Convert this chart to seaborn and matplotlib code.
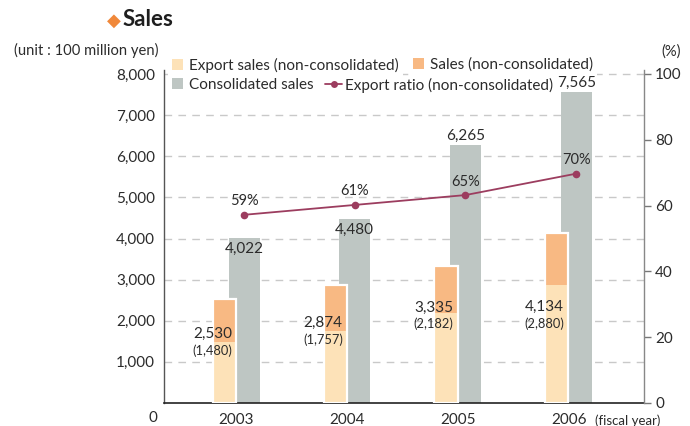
import matplotlib
matplotlib.use("Agg")
import matplotlib.pyplot as plt
import seaborn as sns
import pandas as pd
from matplotlib.patches import Patch
from matplotlib.lines import Line2D
from matplotlib.legend import Legend

# ---- data ----
years = ["2003", "2004", "2005", "2006"]
consolidated = [4022, 4480, 6265, 7565]
sales_nc = [2530, 2874, 3335, 4134]
export_nc = [1480, 1757, 2182, 2880]
export_ratio = [57.2, 60.2, 63.2, 69.7]          # plotted positions
ratio_labels = ["59%", "61%", "65%", "70%"]
left_ticks = [1000, 2000, 3000, 4000, 5000, 6000, 7000, 8000]
right_ticks = [0, 20, 40, 60, 80, 100]

# ---- layout (not data) ----
sales_label_y = [1680, 1950, 2320, 2340]
cons_label_off_px = [-11, -11, 9, 9]

C_CREAM = "#fde2b8"
C_ORANGE = "#f8b983"
C_GRAY = "#bec6c3"
C_LINE = "#9c3d5f"
C_TEXT = "#2b2b2b"

sns.set_style("white")
plt.rcParams["font.family"] = ["Lato", "DejaVu Sans"]
plt.rcParams["text.color"] = C_TEXT
plt.rcParams["axes.labelcolor"] = C_TEXT
plt.rcParams["xtick.color"] = C_TEXT
plt.rcParams["ytick.color"] = C_TEXT

W, H = 690, 426
PX = 72 / 100  # points per pixel
FS = 11

fig = plt.figure(figsize=(6.9, 4.26), dpi=100)
L, R, B, T = 164, 644, 403, 70
ax = fig.add_axes([L / W, 1 - B / H, (R - L) / W, (B - T) / H])

idx = list(range(len(years)))
df = pd.DataFrame({
    "year": years,
    "xg": [i + 0.068 for i in idx],
    "xo": [i - 0.108 for i in idx],
    "consolidated": consolidated,
    "sales": sales_nc,
    "export": export_nc,
    "ratio": export_ratio,
})

ymax = 8000 * (B - T) / (B - 74)

sns.barplot(data=df, x="xg", y="consolidated", native_scale=True, orient="x",
            width=0.28, color=C_GRAY, saturation=1, errorbar=None, ax=ax,
            linewidth=0, zorder=2)
sns.barplot(data=df, x="xo", y="sales", native_scale=True, orient="x",
            width=0.21, color=C_ORANGE, saturation=1, errorbar=None, ax=ax,
            linewidth=0, zorder=3)
sns.barplot(data=df, x="xo", y="export", native_scale=True, orient="x",
            width=0.21, color=C_CREAM, saturation=1, errorbar=None, ax=ax,
            linewidth=0, zorder=4)
sns.barplot(data=df, x="xo", y="sales", native_scale=True, orient="x",
            width=0.21, fill=False, color="white", errorbar=None, ax=ax,
            linewidth=1.6, zorder=5)

ax.set_xlim(-0.655, 3.681)
ax.set_ylim(0, ymax)
ax.set_xticks(idx, years)
ax.set_yticks(left_ticks, [f"{v:,}" for v in left_ticks])
ax.set_xlabel("")
ax.set_ylabel("")
ax.tick_params(axis="y", length=0, pad=6.5, labelsize=FS)
ax.tick_params(axis="x", length=0, pad=7, labelsize=FS)
ax.yaxis.grid(True, color="#c9c9c9", linewidth=1.0, linestyle=(0, (5.5, 4.5)), zorder=0)
ax.xaxis.grid(False)
ax.set_axisbelow(True)
for s in ["top", "right"]:
    ax.spines[s].set_visible(False)
ax.spines["left"].set_color("#555555")
ax.spines["left"].set_linewidth(1.0)
ax.spines["bottom"].set_color("#222222")
ax.spines["bottom"].set_linewidth(1.2)

# ratio line on right axis
ax2 = ax.twinx()
sns.lineplot(data=df, x="xg", y="ratio", color=C_LINE, marker="o",
             markersize=5.5, markeredgewidth=0, linewidth=1.3, ax=ax2)
if ax2.get_legend() is not None:
    ax2.get_legend().remove()
ax2.set_ylim(0, 100 * (B - T) / (B - 74))
ax2.set_xlim(-0.655, 3.681)
ax2.set_yticks(right_ticks, [str(v) for v in right_ticks])
ax2.set_ylabel("")
ax2.set_xlabel("")
ax2.tick_params(axis="y", length=5, width=1, color="#777777", pad=3, labelsize=FS)
for s in ["top", "left", "bottom"]:
    ax2.spines[s].set_visible(False)
ax2.spines["right"].set_color("#888888")
ax2.spines["right"].set_linewidth(1.0)
for i in idx:
    ax2.annotate(ratio_labels[i], (df.xg[i], export_ratio[i]),
                 xytext=(0, 13.5 * PX), textcoords="offset points",
                 ha="center", va="center", fontsize=10.5, color=C_TEXT)

# value labels (drawn on top axis so they stay above the legend boxes)
for i in idx:
    off = cons_label_off_px[i] * PX
    ax2.annotate(f"{consolidated[i]:,}", (df.xg[i], consolidated[i]),
                 xycoords=ax.transData,
                 xytext=(0, off), textcoords="offset points",
                 ha="center", va="center", fontsize=FS, color=C_TEXT, zorder=20)
    ax2.annotate(f"{sales_nc[i]:,}", (i - 0.04, sales_label_y[i]),
                 xycoords=ax.transData,
                 ha="right", va="center", fontsize=FS, color=C_TEXT, zorder=20)
    ax2.annotate(f"({export_nc[i]:,})", (i - 0.04, sales_label_y[i]),
                 xycoords=ax.transData,
                 xytext=(0, -16.5 * PX), textcoords="offset points",
                 ha="right", va="center", fontsize=9.3, color=C_TEXT, zorder=20)

# legends (one per entry to match free-flowing layout)
def add_leg(handle, label, x_handle, y, hlen_px, gap_px=6, frame=True):
    fs = FS
    fs_px = fs / PX
    bp = 0.28
    leg = Legend(ax2, [handle], [label], loc="center left",
                 bbox_to_anchor=((x_handle - bp * fs_px) / W, 1 - y / H),
                 bbox_transform=fig.transFigure, fontsize=fs,
                 frameon=frame, facecolor="white", edgecolor="none",
                 framealpha=1, fancybox=False, borderpad=bp,
                 handlelength=hlen_px / fs_px, handleheight=11 / fs_px,
                 handletextpad=gap_px / fs_px, borderaxespad=0)
    leg.set_zorder(10)
    ax2.add_artist(leg)

add_leg(Patch(facecolor=C_CREAM, edgecolor="none"), "Export sales (non-consolidated)", 172, 65, 11)
add_leg(Patch(facecolor=C_ORANGE, edgecolor="none"), "Sales (non-consolidated)", 413, 65, 11)
add_leg(Patch(facecolor=C_GRAY, edgecolor="none"), "Consolidated sales", 172, 85, 11)
add_leg(Line2D([0], [0], color=C_LINE, marker="o", markersize=5, linewidth=1.3,
               markeredgewidth=0), "Export ratio (non-consolidated)", 325, 85, 17,
        gap_px=3, frame=False)

# titles and extra texts
fig.text(107 / W, 1 - 21 / H, "◆", color="#f0883a", fontsize=13,
         ha="left", va="center", family=["DejaVu Sans"])
fig.text(123 / W, 1 - 20 / H, "Sales", color="#1e1e1e", fontsize=16,
         fontweight="bold", ha="left", va="center")
fig.text(158 / W, 1 - 50 / H, "(unit : 100 million yen)", fontsize=10.6,
         ha="right", va="center", color=C_TEXT)
fig.text(671 / W, 1 - 52 / H, "(%)", fontsize=10.6, ha="center", va="center", color=C_TEXT)
fig.text(153 / W, 1 - 418 / H, "0", fontsize=FS, ha="center", va="center", color=C_TEXT)
fig.text(595 / W, 1 - 421 / H, "(fiscal year)", fontsize=9.5, ha="left", va="center", color=C_TEXT)

fig.savefig("out.png", dpi=100)
